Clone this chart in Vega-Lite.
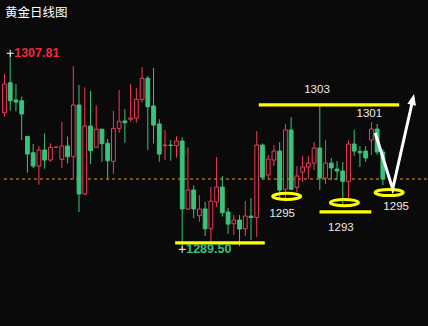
{
  "$schema": "https://vega.github.io/schema/vega-lite/v6.json",
  "width": 428,
  "height": 326,
  "autosize": {"type": "fit", "contains": "padding"},
  "padding": 0,
  "background": "#0a0a0a",
  "config": {"view": {"stroke": null}, "scale": {"continuousPadding": 0}},
  "datasets": {
    "candles": [
      {"i": 1, "o": 1302.26, "h": 1305.88, "l": 1301.89, "c": 1304.94},
      {"i": 2, "o": 1305.06, "h": 1307.81, "l": 1302.45, "c": 1303.38},
      {"i": 3, "o": 1303.45, "h": 1304.94, "l": 1302.39, "c": 1303.26},
      {"i": 4, "o": 1303.38, "h": 1303.76, "l": 1299.71, "c": 1302.14},
      {"i": 5, "o": 1300.05, "h": 1300.08, "l": 1296.66, "c": 1298.40},
      {"i": 6, "o": 1298.52, "h": 1299.34, "l": 1297.10, "c": 1297.28},
      {"i": 7, "o": 1297.28, "h": 1299.15, "l": 1295.54, "c": 1298.78},
      {"i": 8, "o": 1298.78, "h": 1300.34, "l": 1297.03, "c": 1297.84},
      {"i": 9, "o": 1297.84, "h": 1299.40, "l": 1297.66, "c": 1299.03},
      {"i": 10, "o": 1299.01, "h": 1299.10, "l": 1298.98, "c": 1299.05},
      {"i": 11, "o": 1297.91, "h": 1301.39, "l": 1297.10, "c": 1299.15},
      {"i": 12, "o": 1299.15, "h": 1300.02, "l": 1297.53, "c": 1298.15},
      {"i": 13, "o": 1298.15, "h": 1306.62, "l": 1296.04, "c": 1302.98},
      {"i": 14, "o": 1302.98, "h": 1304.85, "l": 1292.99, "c": 1294.67},
      {"i": 15, "o": 1294.67, "h": 1304.63, "l": 1294.57, "c": 1301.02},
      {"i": 16, "o": 1301.02, "h": 1304.29, "l": 1297.47, "c": 1298.71},
      {"i": 17, "o": 1299.03, "h": 1302.95, "l": 1299.00, "c": 1300.71},
      {"i": 18, "o": 1300.71, "h": 1300.80, "l": 1297.66, "c": 1299.37},
      {"i": 19, "o": 1299.40, "h": 1299.80, "l": 1296.04, "c": 1297.78},
      {"i": 20, "o": 1297.72, "h": 1302.42, "l": 1296.56, "c": 1300.80},
      {"i": 21, "o": 1300.80, "h": 1304.38, "l": 1300.39, "c": 1301.46},
      {"i": 22, "o": 1301.49, "h": 1302.61, "l": 1299.46, "c": 1301.33},
      {"i": 23, "o": 1301.65, "h": 1304.94, "l": 1301.42, "c": 1301.77},
      {"i": 24, "o": 1301.74, "h": 1304.57, "l": 1301.33, "c": 1303.51},
      {"i": 25, "o": 1303.51, "h": 1306.53, "l": 1303.20, "c": 1305.48},
      {"i": 26, "o": 1305.48, "h": 1305.69, "l": 1298.78, "c": 1302.82},
      {"i": 27, "o": 1302.89, "h": 1306.44, "l": 1299.40, "c": 1301.11},
      {"i": 28, "o": 1301.21, "h": 1301.65, "l": 1297.68, "c": 1298.40},
      {"i": 29, "o": 1299.20, "h": 1300.65, "l": 1297.84, "c": 1299.24},
      {"i": 30, "o": 1299.24, "h": 1299.71, "l": 1297.78, "c": 1299.20},
      {"i": 31, "o": 1299.18, "h": 1300.08, "l": 1298.06, "c": 1299.62},
      {"i": 32, "o": 1299.62, "h": 1299.96, "l": 1289.50, "c": 1293.27},
      {"i": 33, "o": 1293.27, "h": 1299.03, "l": 1293.17, "c": 1295.04},
      {"i": 34, "o": 1295.04, "h": 1295.48, "l": 1292.42, "c": 1293.27},
      {"i": 35, "o": 1292.64, "h": 1294.57, "l": 1292.08, "c": 1293.27},
      {"i": 36, "o": 1293.27, "h": 1293.92, "l": 1290.74, "c": 1291.42},
      {"i": 37, "o": 1291.42, "h": 1295.32, "l": 1290.28, "c": 1294.01},
      {"i": 38, "o": 1293.92, "h": 1298.12, "l": 1293.45, "c": 1295.32},
      {"i": 39, "o": 1295.32, "h": 1296.35, "l": 1292.55, "c": 1292.92},
      {"i": 40, "o": 1292.99, "h": 1293.36, "l": 1290.93, "c": 1291.86},
      {"i": 41, "o": 1291.89, "h": 1292.70, "l": 1290.84, "c": 1292.24},
      {"i": 42, "o": 1292.24, "h": 1292.70, "l": 1289.81, "c": 1291.40},
      {"i": 43, "o": 1291.42, "h": 1294.01, "l": 1290.74, "c": 1292.61},
      {"i": 44, "o": 1292.61, "h": 1294.29, "l": 1290.37, "c": 1292.47},
      {"i": 45, "o": 1292.47, "h": 1300.55, "l": 1290.65, "c": 1299.24},
      {"i": 46, "o": 1299.24, "h": 1299.40, "l": 1295.97, "c": 1296.23},
      {"i": 47, "o": 1296.44, "h": 1298.31, "l": 1295.97, "c": 1297.94},
      {"i": 48, "o": 1297.84, "h": 1299.24, "l": 1297.28, "c": 1298.68},
      {"i": 49, "o": 1298.68, "h": 1299.52, "l": 1294.11, "c": 1295.04},
      {"i": 50, "o": 1295.11, "h": 1301.21, "l": 1293.95, "c": 1300.65},
      {"i": 51, "o": 1300.65, "h": 1301.86, "l": 1295.05, "c": 1295.11},
      {"i": 52, "o": 1295.29, "h": 1297.28, "l": 1294.85, "c": 1296.35},
      {"i": 53, "o": 1296.72, "h": 1298.22, "l": 1295.79, "c": 1297.19},
      {"i": 54, "o": 1297.19, "h": 1298.22, "l": 1296.07, "c": 1297.56},
      {"i": 55, "o": 1297.56, "h": 1299.52, "l": 1296.91, "c": 1298.96},
      {"i": 56, "o": 1298.96, "h": 1303.17, "l": 1295.04, "c": 1296.16},
      {"i": 57, "o": 1296.16, "h": 1299.71, "l": 1295.60, "c": 1297.56},
      {"i": 58, "o": 1297.56, "h": 1298.03, "l": 1295.97, "c": 1297.10},
      {"i": 59, "o": 1297.00, "h": 1297.75, "l": 1295.97, "c": 1296.82},
      {"i": 60, "o": 1296.82, "h": 1297.66, "l": 1293.45, "c": 1295.85},
      {"i": 61, "o": 1295.85, "h": 1299.71, "l": 1294.26, "c": 1299.34},
      {"i": 62, "o": 1299.34, "h": 1300.65, "l": 1298.22, "c": 1298.68},
      {"i": 63, "o": 1298.65, "h": 1299.15, "l": 1297.19, "c": 1298.52},
      {"i": 64, "o": 1298.68, "h": 1299.15, "l": 1297.66, "c": 1298.03},
      {"i": 65, "o": 1299.71, "h": 1301.39, "l": 1298.31, "c": 1300.74},
      {"i": 66, "o": 1300.74, "h": 1301.21, "l": 1298.31, "c": 1298.59},
      {"i": 67, "o": 1298.59, "h": 1298.87, "l": 1295.51, "c": 1296.07}
    ],
    "levels": [
      {"p": 1303, "from": 45.36, "to": 69.84},
      {"p": 1293, "from": 55.95, "to": 64.98},
      {"p": 1290.1, "from": 30.77, "to": 46.4}
    ],
    "rings": [
      {"i": 50.22, "p": 1294.45},
      {"i": 60.29, "p": 1293.87},
      {"i": 68.1, "p": 1294.81}
    ],
    "arrow": [
      {"step": 1, "i": 65.67, "p": 1300.37},
      {"step": 2, "i": 68.71, "p": 1295.13},
      {"step": 3, "i": 72.23, "p": 1303.5}
    ],
    "head": [{"i": 72.23, "p": 1303.5}],
    "notes": [
      {"text": "1303", "i": 55.51, "p": 1304.38},
      {"text": "1301", "i": 64.63, "p": 1302.14},
      {"text": "1295", "i": 49.44, "p": 1292.8},
      {"text": "1293", "i": 59.68, "p": 1291.54},
      {"text": "1295", "i": 69.32, "p": 1293.45}
    ],
    "extremes": [
      {"i": 2, "p": 1307.81, "kind": "high"},
      {"i": 32, "p": 1289.5, "kind": "low"}
    ],
    "title": [{"text": "黄金日线图", "i": 1.09, "p": 1311.58}]
  },
  "layer": [
    {
      "data": {"values": [{"p": 1296.07}]},
      "mark": {"type": "rule", "stroke": "#f39325", "strokeWidth": 1, "strokeDash": [3, 3]},
      "encoding": {
        "y": {"field": "p", "type": "quantitative", "axis": null, "scale": {"domain": [1282.34, 1312.79], "nice": false, "zero": false, "padding": 0}}
      }
    },
    {
      "data": {"name": "candles"},
      "mark": {"type": "rule", "strokeWidth": 1},
      "encoding": {
        "x": {"field": "i", "type": "quantitative", "axis": null, "scale": {"domain": [0.392, 74.698], "nice": false, "zero": false, "padding": 0}},
        "y": {"field": "l", "type": "quantitative", "axis": null, "scale": {"domain": [1282.34, 1312.79], "nice": false, "zero": false, "padding": 0}},
        "y2": {"field": "h"},
        "stroke": {"condition": {"test": "datum.c >= datum.o", "value": "#f43a5a"}, "value": "#38c47a"}
      }
    },
    {
      "data": {"name": "candles"},
      "mark": {"type": "bar", "size": 3.8, "strokeWidth": 1},
      "encoding": {
        "x": {"field": "i", "type": "quantitative", "axis": null, "scale": {"domain": [0.392, 74.698], "nice": false, "zero": false, "padding": 0}},
        "y": {"field": "o", "type": "quantitative", "axis": null, "scale": {"domain": [1282.34, 1312.79], "nice": false, "zero": false, "padding": 0}},
        "y2": {"field": "c"},
        "fill": {"condition": {"test": "datum.c >= datum.o", "value": "#0a0a0a"}, "value": "#38c47a"},
        "stroke": {"condition": {"test": "datum.c >= datum.o", "value": "#f43a5a"}, "value": "#38c47a"}
      }
    },
    {
      "data": {"name": "levels"},
      "mark": {"type": "rule", "stroke": "#ffff00", "strokeWidth": 3.3},
      "encoding": {
        "x": {"field": "from", "type": "quantitative", "axis": null, "scale": {"domain": [0.392, 74.698], "nice": false, "zero": false, "padding": 0}},
        "x2": {"field": "to"},
        "y": {"field": "p", "type": "quantitative", "axis": null, "scale": {"domain": [1282.34, 1312.79], "nice": false, "zero": false, "padding": 0}}
      }
    },
    {
      "data": {"name": "rings"},
      "mark": {
        "type": "point",
        "shape": "M-1,0C-1,-0.121,-0.552,-0.22,0,-0.22C0.552,-0.22,1,-0.121,1,0C1,0.121,0.552,0.22,0,0.22C-0.552,0.22,-1,0.121,-1,0Z",
        "filled": false,
        "stroke": "#ffff00",
        "strokeWidth": 3,
        "size": 784,
        "opacity": 1
      },
      "encoding": {
        "x": {"field": "i", "type": "quantitative", "axis": null, "scale": {"domain": [0.392, 74.698], "nice": false, "zero": false, "padding": 0}},
        "y": {"field": "p", "type": "quantitative", "axis": null, "scale": {"domain": [1282.34, 1312.79], "nice": false, "zero": false, "padding": 0}}
      }
    },
    {
      "data": {"name": "arrow"},
      "mark": {"type": "line", "stroke": "#ffffff", "strokeWidth": 3, "strokeJoin": "miter"},
      "encoding": {
        "x": {"field": "i", "type": "quantitative", "axis": null, "scale": {"domain": [0.392, 74.698], "nice": false, "zero": false, "padding": 0}},
        "y": {"field": "p", "type": "quantitative", "axis": null, "scale": {"domain": [1282.34, 1312.79], "nice": false, "zero": false, "padding": 0}},
        "order": {"field": "step", "type": "quantitative"}
      }
    },
    {
      "data": {"name": "head"},
      "mark": {"type": "point", "shape": "M0,-1L0.8,1L-0.8,1Z", "filled": true, "fill": "#ffffff", "strokeWidth": 0, "size": 121, "angle": 12.75, "opacity": 1},
      "encoding": {
        "x": {"field": "i", "type": "quantitative", "axis": null, "scale": {"domain": [0.392, 74.698], "nice": false, "zero": false, "padding": 0}},
        "y": {"field": "p", "type": "quantitative", "axis": null, "scale": {"domain": [1282.34, 1312.79], "nice": false, "zero": false, "padding": 0}}
      }
    },
    {
      "data": {"name": "extremes"},
      "mark": {"type": "point", "shape": "M-1,0L1,0M0,-1L0,1", "filled": false, "stroke": "#ffffff", "strokeWidth": 1, "size": 49, "opacity": 1},
      "encoding": {
        "x": {"field": "i", "type": "quantitative", "axis": null, "scale": {"domain": [0.392, 74.698], "nice": false, "zero": false, "padding": 0}},
        "y": {"field": "p", "type": "quantitative", "axis": null, "scale": {"domain": [1282.34, 1312.79], "nice": false, "zero": false, "padding": 0}}
      }
    },
    {
      "data": {"name": "extremes"},
      "mark": {"type": "text", "align": "left", "baseline": "middle", "dx": 4, "font": "Liberation Sans", "fontSize": 12.5, "fontWeight": "bold"},
      "encoding": {
        "x": {"field": "i", "type": "quantitative", "axis": null, "scale": {"domain": [0.392, 74.698], "nice": false, "zero": false, "padding": 0}},
        "y": {"field": "p", "type": "quantitative", "axis": null, "scale": {"domain": [1282.34, 1312.79], "nice": false, "zero": false, "padding": 0}},
        "text": {"field": "p", "type": "quantitative", "format": ".2f"},
        "fill": {"condition": {"test": "datum.kind === 'high'", "value": "#ee2b40"}, "value": "#3cbf7c"}
      }
    },
    {
      "data": {"name": "notes"},
      "mark": {"type": "text", "align": "center", "baseline": "middle", "font": "Liberation Sans", "fontSize": 11.5, "fill": "#ececec"},
      "encoding": {
        "x": {"field": "i", "type": "quantitative", "axis": null, "scale": {"domain": [0.392, 74.698], "nice": false, "zero": false, "padding": 0}},
        "y": {"field": "p", "type": "quantitative", "axis": null, "scale": {"domain": [1282.34, 1312.79], "nice": false, "zero": false, "padding": 0}},
        "text": {"field": "text"}
      }
    },
    {
      "data": {"name": "title"},
      "mark": {"type": "text", "align": "left", "baseline": "middle", "font": "Noto Sans CJK SC", "fontSize": 12.5, "fill": "#ffffff"},
      "encoding": {
        "x": {"field": "i", "type": "quantitative", "axis": null, "scale": {"domain": [0.392, 74.698], "nice": false, "zero": false, "padding": 0}},
        "y": {"field": "p", "type": "quantitative", "axis": null, "scale": {"domain": [1282.34, 1312.79], "nice": false, "zero": false, "padding": 0}},
        "text": {"field": "text"}
      }
    }
  ]
}
